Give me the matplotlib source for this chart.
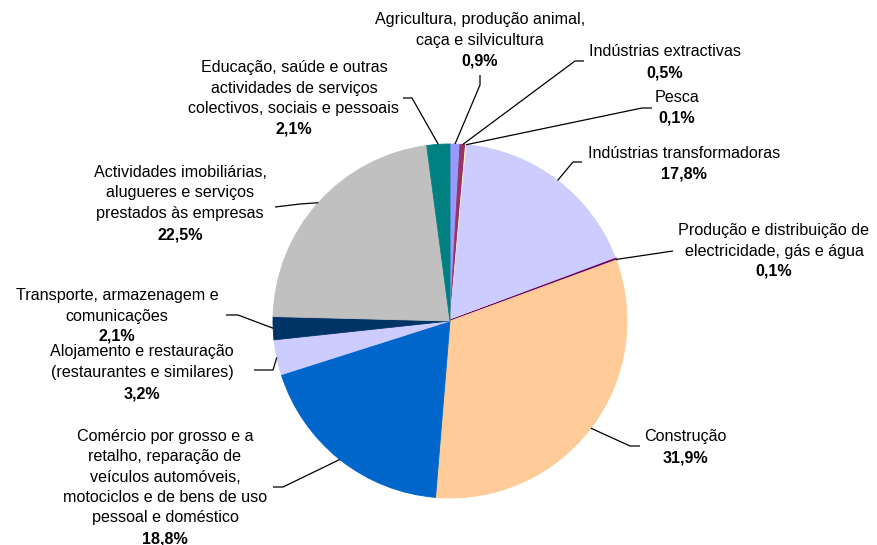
import matplotlib
matplotlib.use("Agg")
import matplotlib.pyplot as plt
import numpy as np

plt.rcParams['font.family'] = ['Liberation Sans', 'DejaVu Sans']

labels = [
    "Agricultura, produção animal,\ncaça e silvicultura",
    "Indústrias extractivas",
    "Pesca",
    "Indústrias transformadoras",
    "Produção e distribuição de\nelectricidade, gás e água",
    "Construção",
    "Comércio por grosso e a\nretalho, reparação de\nveículos automóveis,\nmotociclos e de bens de uso\npessoal e doméstico",
    "Alojamento e restauração\n(restaurantes e similares)",
    "Transporte, armazenagem e\ncomunicações",
    "Actividades imobiliárias,\nalugueres e serviços\nprestados às empresas",
    "Educação, saúde e outras\nactividades de serviços\ncolectivos, sociais e pessoais",
]
values = [0.9, 0.5, 0.1, 17.8, 0.1, 31.9, 18.8, 3.2, 2.1, 22.5, 2.1]
colors = ["#9999FF", "#993366", "#FFFFCC", "#CCCCFF", "#660066", "#FFCC99",
          "#0066CC", "#CCCCFF", "#003366", "#C0C0C0", "#008080"]

W, H = 877, 545
fig = plt.figure(figsize=(W / 100, H / 100), dpi=100)
ax = fig.add_axes([0, 0, 1, 1])

cx, cy, R = 450, H - 321, 177
wedges, _ = ax.pie(values, colors=colors, startangle=90, counterclock=False,
                   center=(cx, cy), radius=R, frame=True,
                   wedgeprops=dict(linewidth=0.6))
for w, c in zip(wedges, colors):
    w.set_edgecolor(c)
wedges[4].set_linewidth(1.6)
ax.set_xlim(0, W)
ax.set_ylim(0, H)
ax.set_aspect('equal')
ax.axis('off')

def Y(y):
    return H - y

# layout: (text center x, name center y, pct center y, leader points after edge)
layout = [
    (480, 30, 61, [(480, 85), (480, 75)]),
    (665, 52, 73, [(575, 61), (584, 61)]),
    (677, 98, 118, [(642, 108), (652, 108)]),
    (684, 153, 174, [(573, 162), (582, 162)]),
    (774, 241, 271, [(673, 251)]),
    (685, 437, 458, [(630, 446), (640, 446)]),
    (165, 477, 539, [(283, 487), (273, 487)]),
    (142, 362, 394, [(273, 370), (254, 370)]),
    (117, 306, 336, [(238, 315), (226, 315)]),
    (180, 193, 235, [(300, 204), (275, 207)]),
    (294, 88, 129, [(412, 98), (403, 98)]),
]

fs = 11.6
for w, lab, v, (tx, ty, py, pts) in zip(wedges, labels, values, layout):
    ang = np.deg2rad((w.theta1 + w.theta2) / 2)
    sx = cx + R * np.cos(ang)
    sy = cy + R * np.sin(ang)
    xs = [sx] + [p[0] for p in pts]
    ys = [sy] + [Y(p[1]) for p in pts]
    ax.plot(xs, ys, color='black', lw=0.9, solid_capstyle='butt')
    ax.text(tx, Y(ty), lab, ha='center', va='center', fontsize=fs,
            linespacing=1.42, color='black')
    pct = f"{v:.1f}%".replace('.', ',')
    ax.text(tx, Y(py), pct, ha='center', va='center', fontsize=fs,
            fontweight='bold', color='black')

fig.savefig("out.png", dpi=100)
